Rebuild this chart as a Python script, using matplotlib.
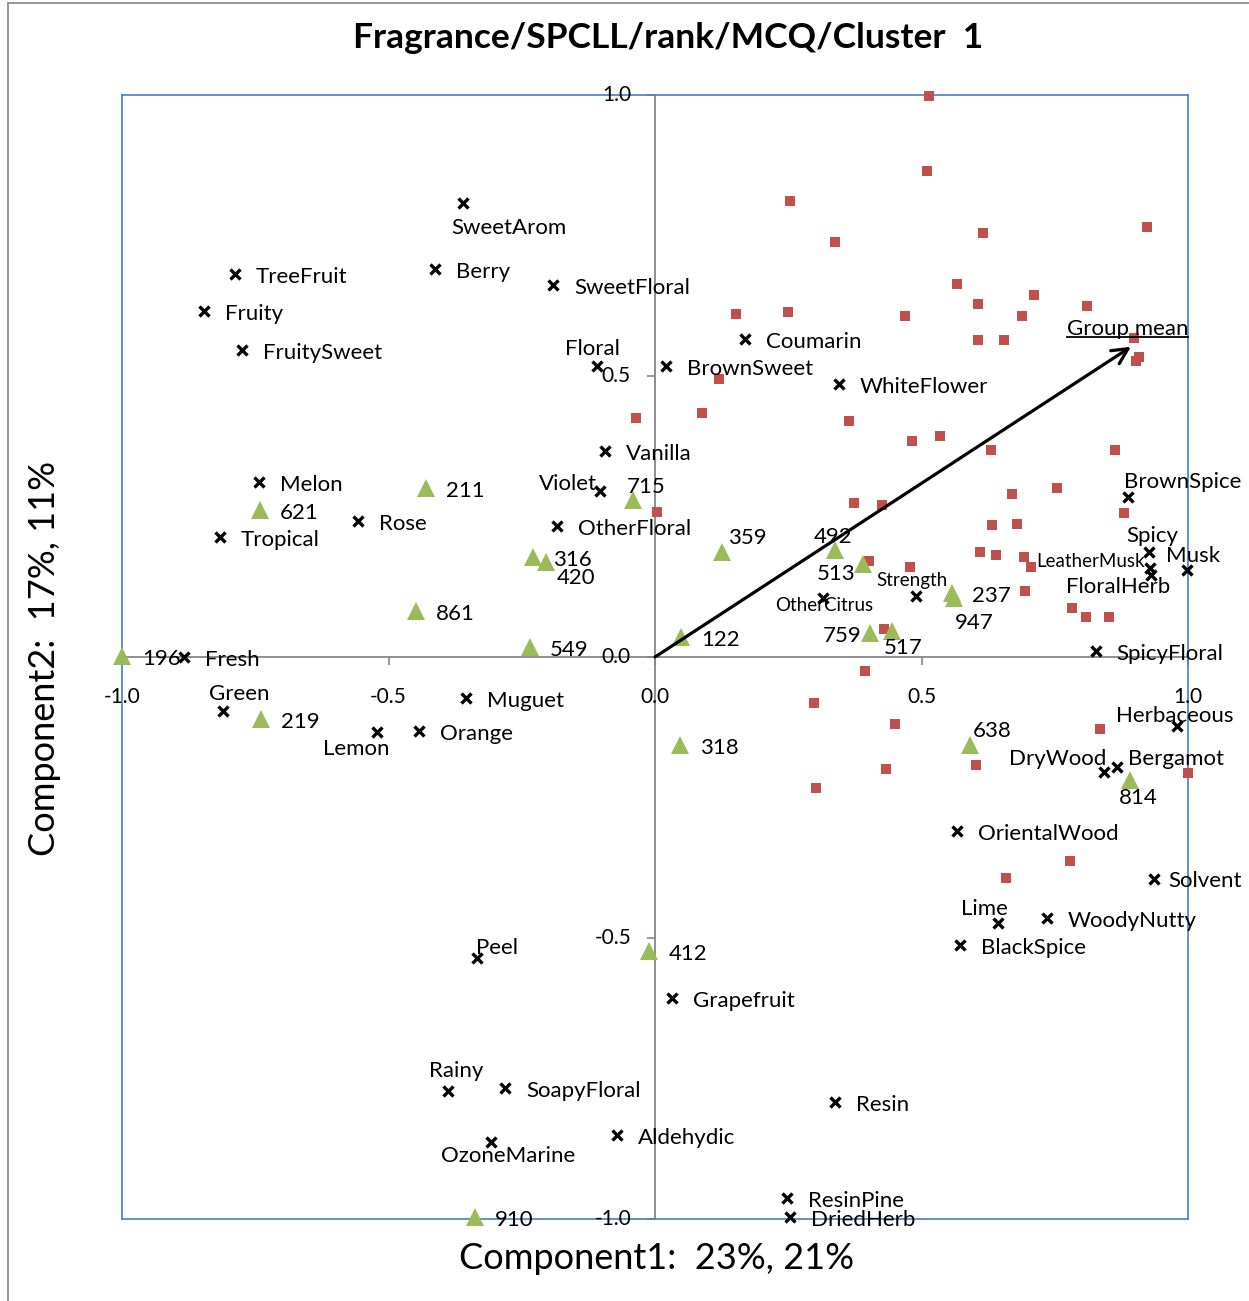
import matplotlib
matplotlib.use('Agg')
import matplotlib.pyplot as plt
from matplotlib.lines import Line2D

plt.rcParams['font.family'] = ['Lato', 'DejaVu Sans']

# attributes (black crosses)
attr_names = ['SweetArom', 'TreeFruit', 'Berry', 'SweetFloral', 'Fruity', 'FruitySweet',
              'Floral', 'Coumarin', 'BrownSweet', 'WhiteFlower', 'Vanilla', 'Melon',
              'Violet', 'Rose', 'OtherFloral', 'Tropical', 'BrownSpice', 'Spicy',
              'LeatherMusk', 'FloralHerb', 'Musk', 'SpicyFloral', 'Herbaceous', 'DryWood',
              'Bergamot', 'OrientalWood', 'Solvent', 'Lime', 'WoodyNutty', 'BlackSpice',
              'Strength', 'OtherCitrus', 'Fresh', 'Green', 'Muguet', 'Lemon', 'Orange',
              'Peel', 'Grapefruit', 'Rainy', 'SoapyFloral', 'Resin', 'Aldehydic',
              'OzoneMarine', 'ResinPine', 'DriedHerb']
attr_x = [-0.360, -0.788, -0.413, -0.191, -0.846, -0.775,
          -0.109, 0.169, 0.021, 0.345, -0.094, -0.743,
          -0.103, -0.557, -0.184, -0.816, 0.887, 0.927,
          0.929, 0.931, 0.998, 0.827, 0.979, 0.842,
          0.867, 0.567, 0.936, 0.644, 0.735, 0.572,
          0.490, 0.315, -0.884, -0.811, -0.355, -0.522, -0.443,
          -0.334, 0.032, -0.388, -0.281, 0.338, -0.071,
          -0.308, 0.248, 0.253]
attr_y = [0.808, 0.681, 0.690, 0.662, 0.616, 0.546,
          0.518, 0.566, 0.518, 0.486, 0.367, 0.311,
          0.295, 0.242, 0.233, 0.214, 0.285, 0.187,
          0.158, 0.146, 0.155, 0.011, -0.123, -0.205,
          -0.196, -0.310, -0.395, -0.473, -0.464, -0.512,
          0.109, 0.105, 0.000, -0.096, -0.073, -0.133, -0.132,
          -0.536, -0.607, -0.772, -0.767, -0.792, -0.851,
          -0.863, -0.963, -0.996]

# cluster members (green triangles)
subj_names = ['211', '621', '715', '359', '492', '513', '316', '420', '861', '237',
              '947', '549', '196', '122', '759', '517', '219', '318', '638', '814',
              '412', '910']
subj_x = [-0.430, -0.741, -0.041, 0.126, 0.338, 0.390, -0.229, -0.205, -0.448, 0.557,
          0.561, -0.235, -1.000, 0.049, 0.403, 0.445, -0.739, 0.047, 0.591, 0.891,
          -0.011, -0.338]
subj_y = [0.301, 0.262, 0.279, 0.187, 0.190, 0.165, 0.178, 0.169, 0.082, 0.114,
          0.105, 0.018, 0.002, 0.036, 0.043, 0.046, -0.110, -0.157, -0.157, -0.219,
          -0.523, -0.996]

# other subjects (red squares)
other_x = [0.514, 0.510, 0.253, 0.615, 0.338, 0.923, 0.567, 0.711, 0.606, 0.152,
           0.250, 0.469, 0.689, 0.811, 0.606, 0.655, 0.899, 0.908, 0.902, 0.120,
           -0.036, 0.088, 0.364, 0.535, 0.482, 0.630, 0.863, 0.754, 0.670, 0.880,
           0.373, 0.426, 0.004, 0.632, 0.679, 0.610, 0.640, 0.692, 0.705, 0.402,
           0.478, 0.694, 0.782, 0.809, 0.852, 0.430, 0.394, 0.298, 0.450, 0.835,
           0.433, 0.602, 0.302, 1.000, 0.779, 0.659]
other_y = [0.998, 0.865, 0.811, 0.754, 0.738, 0.765, 0.664, 0.644, 0.628, 0.610,
           0.614, 0.607, 0.607, 0.625, 0.564, 0.564, 0.568, 0.534, 0.527, 0.495,
           0.425, 0.434, 0.420, 0.393, 0.384, 0.368, 0.368, 0.301, 0.290, 0.256,
           0.274, 0.270, 0.258, 0.235, 0.237, 0.187, 0.181, 0.178, 0.160, 0.171,
           0.160, 0.117, 0.087, 0.071, 0.071, 0.050, -0.025, -0.082, -0.119, -0.128,
           -0.199, -0.192, -0.233, -0.206, -0.363, -0.393]

group_mean = (0.893, 0.552)
axis_ticks = [-1.0, -0.5, 0.0, 0.5, 1.0]

# label placement (pixels): dx, dy, ha
attr_pos = {'SweetArom': (-12, -25, 'left'), 'Floral': (-32, 17, 'left'),
            'Violet': (-3, 7, 'right'), 'BrownSpice': (-4, 15, 'left'),
            'Spicy': (-23, 16, 'left'), 'LeatherMusk': (-5, 7, 'right'),
            'FloralHerb': (-85, -12, 'left'), 'Musk': (-21, 14, 'left'),
            'Herbaceous': (-61, 10, 'left'), 'DryWood': (3, 13, 'right'),
            'Bergamot': (11, 8, 'left'), 'Lime': (-37, 14, 'left'),
            'Strength': (-40, 15, 'left'), 'OtherCitrus': (-48, -8, 'left'),
            'Green': (-14, 17, 'left'), 'Lemon': (-54, -17, 'left'),
            'Peel': (-1, 10, 'left'), 'Rainy': (-19, 20, 'left'),
            'OzoneMarine': (-50, -14, 'left'), 'Solvent': (14, -2, 'left')}
small_labels = ['LeatherMusk', 'Strength', 'OtherCitrus']
subj_pos = {'715': (-6, 13, 'left'), '359': (6, 14, 'left'), '492': (-21, 13, 'left'),
            '513': (-46, -10, 'left'), '420': (11, -16, 'left'), '947': (1, -25, 'left'),
            '759': (-8, -3, 'right'), '517': (-8, -17, 'left'), '638': (3, 14, 'left'),
            '814': (-11, -18, 'left')}

fig = plt.figure(figsize=(12.49, 13.01), dpi=100)
ax = fig.add_axes([122 / 1249, 82 / 1301, 1066 / 1249, 1124 / 1301])
ax.set_xlim(-1, 1)
ax.set_ylim(-1, 1)
ax.set_xticks([])
ax.set_yticks([])
for s in ax.spines.values():
    s.set_color('#4A7EBB')
    s.set_linewidth(1.2)

grey = '#868686'
ax.axhline(0, color=grey, lw=1.3, zorder=1)
ax.axvline(0, color=grey, lw=1.3, zorder=1)
ax.plot(axis_ticks, [0] * 5, ls='none', marker=3, ms=6, mew=1.2, color=grey, clip_on=False)
ax.plot([0] * 5, axis_ticks, ls='none', marker=0, ms=6, mew=1.2, color=grey, clip_on=False)
for v in axis_ticks:
    ax.annotate('%0.1f' % v, (v, 0), xytext=(0, -40), textcoords='offset pixels',
                ha='center', va='center', fontsize=15, annotation_clip=False)
    ax.annotate('%0.1f' % v, (0, v), xytext=(-24, 0), textcoords='offset pixels',
                ha='right', va='center', fontsize=15, annotation_clip=False)

ax.plot(other_x, other_y, ls='none', marker='s', ms=6.5, mew=0, color='#C0504D', zorder=3,
        clip_on=False)
ax.plot(subj_x, subj_y, ls='none', marker='^', ms=13, mew=0, color='#9BBB59', zorder=4,
        clip_on=False)
ax.plot(attr_x, attr_y, ls='none', marker='x', ms=7, mew=2.4, color='black', zorder=5,
        clip_on=False)

for n, x, y in zip(attr_names, attr_x, attr_y):
    dx, dy, ha = attr_pos.get(n, (21, -3, 'left'))
    fs = 13.5 if n in small_labels else 16
    ax.annotate(n, (x, y), xytext=(dx, dy), textcoords='offset pixels', ha=ha, va='center',
                fontsize=fs, zorder=6, annotation_clip=False)

for n, x, y in zip(subj_names, subj_x, subj_y):
    dx, dy, ha = subj_pos.get(n, (20, -3, 'left'))
    ax.annotate(n, (x, y), xytext=(dx, dy), textcoords='offset pixels', ha=ha, va='center',
                fontsize=16, zorder=6, annotation_clip=False)

ax.annotate('', xy=group_mean, xytext=(0, 0),
            arrowprops=dict(arrowstyle='->', lw=2.3, color='black', mutation_scale=28,
                            shrinkA=0, shrinkB=0), zorder=7)
gm = ax.annotate('Group mean', group_mean, xytext=(-64, 18), textcoords='offset pixels',
                 ha='left', va='center', fontsize=16, zorder=6)

fig.suptitle('Fragrance/SPCLL/rank/MCQ/Cluster  1', x=0.535, y=0.971, va='center',
             fontsize=25.5, fontweight='bold')
fig.text(0.526, 0.033, 'Component1:  23%, 21%', ha='center', va='center', fontsize=26)
fig.text(0.036, 0.494, 'Component2:  17%, 11%', ha='center', va='center', fontsize=26,
         rotation=90)

# chart-area border (left and top)
fig.add_artist(Line2D([8 / 1249, 8 / 1249], [0, 1 - 3 / 1301], color=grey, lw=1.2))
fig.add_artist(Line2D([8 / 1249, 1], [1 - 3 / 1301, 1 - 3 / 1301], color=grey, lw=1.2))

# underline "Group mean"
fig.canvas.draw()
bb = gm.get_window_extent(fig.canvas.get_renderer())
uy = (bb.y0 + bb.y1) / 2 - 8
fig.add_artist(Line2D([bb.x0 / 1249, bb.x1 / 1249], [uy / 1301, uy / 1301], color='black', lw=1.3))

fig.savefig('out.png', dpi=100)
